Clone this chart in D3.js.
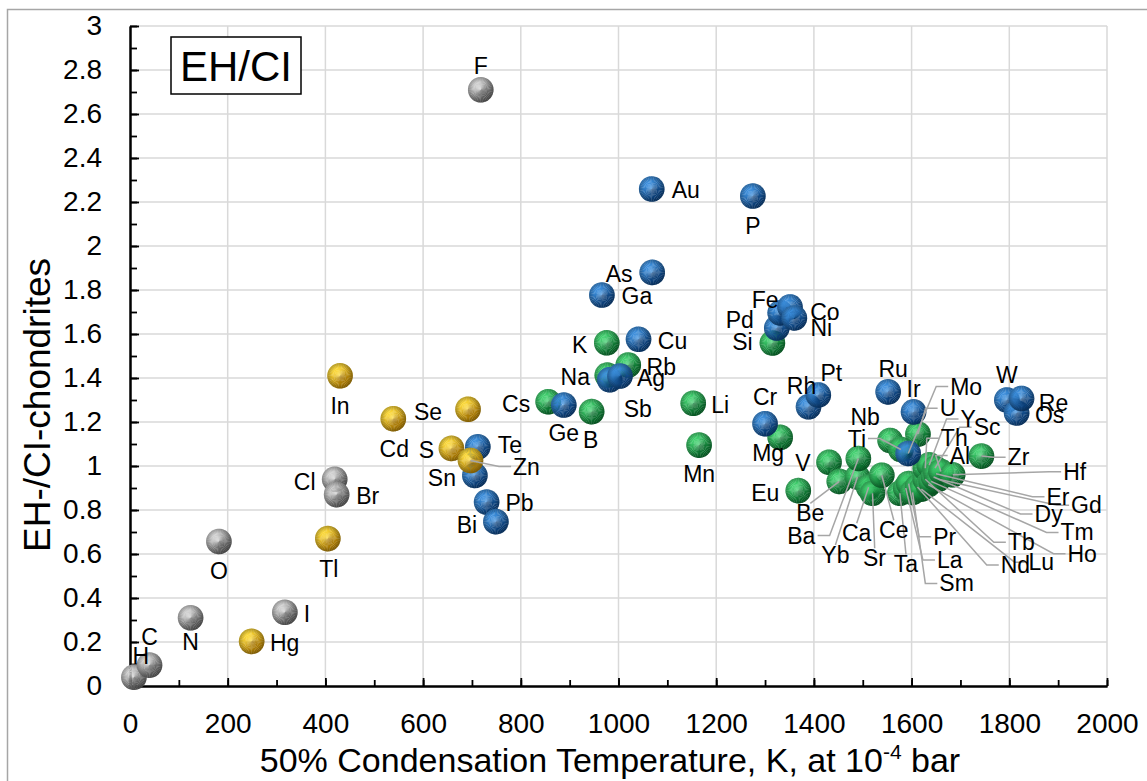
<!DOCTYPE html>
<html><head><meta charset="utf-8">
<script src="https://cdn.jsdelivr.net/npm/d3@7"></script>
<style>
html,body{margin:0;padding:0;background:#fff;}
svg{display:block;font-family:"Liberation Sans",Arial,sans-serif;}
</style></head><body>
<svg id="chart" width="1147" height="781"></svg>
<script>
// EH / CI chondrite abundance ratios against 50% condensation temperature (K, 10^-4 bar)

// Volatile elements (grey)
const volatileNames = ["H","C","N","O","I","Cl","Br","F"];
const volatileTc    = [8, 40, 124, 182, 317, 419, 423, 718];
const volatileRatio = [0.04, 0.095, 0.31, 0.657, 0.335, 0.94, 0.87, 2.71];

// Chalcophile elements (gold)
const chalcoNames = ["Hg","Tl","In","Cd","Se","S","Zn"];
const chalcoTc    = [249, 405, 430, 539, 692, 658, 697];
const chalcoRatio = [0.203, 0.67, 1.41, 1.215, 1.258, 1.08, 1.025];

// Siderophile elements (blue)
const sideroNames = ["Te","Sn","Pb","Bi","Ge","Ga","Sb","Ag","Cu","Au","As","P","Cr","Pd","Fe","Co","Ni","Rh","Pt","Ru","Ir","W","Os","Re","Mo"];
const sideroTc    = [712, 706, 730, 749, 888, 966, 982, 1003, 1041, 1068, 1069, 1275, 1300, 1324, 1331, 1351, 1360, 1389, 1409, 1552, 1604, 1795, 1815, 1825, 1593];
const sideroRatio = [1.087, 0.957, 0.836, 0.747, 1.277, 1.777, 1.392, 1.409, 1.576, 2.259, 1.88, 2.227, 1.192, 1.627, 1.696, 1.723, 1.673, 1.269, 1.323, 1.337, 1.246, 1.3, 1.241, 1.307, 1.057];

// Lithophile elements (green)
const lithoNames = ["Cs","B","K","Na","Rb","Li","Mn","Si","Mg","Eu","V","Be","Yb","Ba","Ca","Sr","Ce","Nb","Ti","U","Ta","La","Pr","Sm","Nd","Lu","Tb","Th","Ho","Y","Tm","Dy","Sc","Er","Gd","Al","Hf","Zr"];
const lithoTc    = [856, 945, 976, 977, 1020, 1153, 1165, 1315, 1331, 1368, 1431, 1452, 1489, 1491, 1512, 1520, 1539, 1556, 1578, 1613, 1576, 1588, 1594, 1602, 1612, 1620, 1628, 1628, 1634, 1636, 1640, 1645, 1648, 1650, 1655, 1660, 1684, 1743];
const lithoRatio = [1.292, 1.247, 1.56, 1.413, 1.459, 1.285, 1.095, 1.559, 1.13, 0.888, 1.017, 0.93, 0.95, 1.034, 0.904, 0.876, 0.958, 1.116, 1.075, 1.145, 0.876, 0.9, 0.92, 0.88, 0.905, 0.895, 0.94, 0.99, 0.915, 1.005, 0.93, 0.95, 0.99, 0.965, 0.94, 0.975, 0.96, 1.045];

// Axis ticks
const xTicks = [0,200,400,600,800,1000,1200,1400,1600,1800,2000];
const xMinorTicks = d3.range(0, 2001, 100);
const yTickTenths = d3.range(0, 31, 2);
const yMinorTenths = d3.range(0, 31, 1);
const yTicks = yTickTenths.map(t => t / 10);
const yMinorTicks = yMinorTenths.map(t => t / 10);

// ---- layout ----
const plot = {left: 130, right: 1107, top: 26, bottom: 686};

// label placement: [dx, dy] of the label centre from its marker, in px
const labelOffset = {
  H:[7,-21], C:[0,-28], N:[0,24], O:[0,29], I:[22,2], Cl:[-30,3], Br:[31,1], F:[0,-24],
  Hg:[33,2], Tl:[1,30], In:[0,30], Cd:[1,30], Se:[-40,3], S:[-25,2], Zn:[56,6],
  Te:[32,-2], Sn:[-33,2], Pb:[33,1], Bi:[-29,3], Au:[34,1], P:[0,30], As:[-33,2], Ga:[35,1],
  Cu:[34,2], K:[-27,2], Rb:[33,2], Na:[-32,2], Ag:[31,2], Sb:[28,29], Cs:[-32,2], Ge:[0,28],
  B:[-1,28], Li:[27,2], Mn:[0,29], Cr:[0,-27], Fe:[-15,-13], Co:[35,5], Ni:[27,10], Pd:[-37,-8],
  Si:[-30,-1], Rh:[-7,-21], Pt:[13,-22], Ru:[5,-23], Ir:[0,-23], Mg:[-12,16], Eu:[-33,2], V:[-26,1],
  W:[0,-25], Re:[32,4], Os:[33,2], Zr:[37,1], Nb:[-25,-24], Ti:[-44,-11],
  Be:[-29,32], Ba:[-57,77], Yb:[-22,78], Ca:[-12,46], Sr:[2,65], Ce:[12,55], Ta:[6,71],
  Pr:[36,53], La:[44,72], Sm:[44,91], Nd:[98,78], Tb:[96,63], Lu:[120,73], Ho:[154,69],
  Tm:[146,51], Dy:[115,37], Er:[122,23], Gd:[148,26], Hf:[122,-3], Al:[19,-16], Th:[29,-30],
  Y:[39,-46], Sc:[52,-41], U:[30,-26], Mo:[58,-67]
};
// leader line attachment: L = left side of label, R = right side, T = top of label
const leaderSide = {
  Zn:"L", Be:"T", Ba:"R", Yb:"T", Ca:"T", Sr:"T", Ce:"T", Ta:"T",
  Pr:"L", La:"L", Sm:"L", Nd:"L", Tb:"L", Lu:"L", Ho:"L", Tm:"L", Dy:"L", Er:"L", Gd:"L",
  Hf:"L", Al:"L", Th:"L", Y:"L", Sc:"L", U:"L", Mo:"L", Ti:"R", Zr:"L"
};

const svg = d3.select("#chart");
const x = d3.scaleLinear().domain([0, 2000]).range([plot.left, plot.right]);
const y = d3.scaleLinear().domain([0, 3]).range([plot.bottom, plot.top]);

// chart frame
svg.append("rect").attr("x", 7.5).attr("y", 9.5).attr("width", 1170).attr("height", 800)
  .attr("fill", "#fff").attr("stroke", "#a6a6a6").attr("stroke-width", 1.5);

// gridlines
const grid = svg.append("g").attr("stroke", "#d9d9d9").attr("stroke-width", 1.5);
grid.selectAll("line.v").data(xTicks.filter(d => d > 0)).join("line")
  .attr("x1", d => x(d)).attr("x2", d => x(d)).attr("y1", plot.top).attr("y2", plot.bottom);
grid.selectAll("line.h").data(yTicks.filter(d => d > 0)).join("line")
  .attr("x1", plot.left).attr("x2", plot.right).attr("y1", d => y(d)).attr("y2", d => y(d));

// axes (ticks point into the plot)
const fmtY = d => (Math.round(d * 10) % 10 === 0) ? String(Math.round(d)) : d.toFixed(1);
const yAxisMinor = svg.append("g").attr("transform", `translate(${plot.left},0)`)
  .call(d3.axisLeft(y).tickValues(yMinorTicks).tickSize(-7).tickSizeOuter(0).tickFormat(""));
const yAxis = svg.append("g").attr("transform", `translate(${plot.left},0)`)
  .call(d3.axisLeft(y).tickValues(yTicks).tickSize(-9).tickSizeOuter(0).tickPadding(28).tickFormat(fmtY));
const xAxisMinor = svg.append("g").attr("transform", `translate(0,${plot.bottom})`)
  .call(d3.axisBottom(x).tickValues(xMinorTicks).tickSize(-6).tickSizeOuter(0).tickFormat(""));
const xAxis = svg.append("g").attr("transform", `translate(0,${plot.bottom})`)
  .call(d3.axisBottom(x).tickValues(xTicks).tickSize(-8).tickSizeOuter(0).tickPadding(27).tickFormat(d3.format("d")));
[yAxisMinor, yAxis, xAxisMinor, xAxis].forEach(a => {
  a.selectAll("path.domain").attr("stroke", "#000").attr("stroke-width", 2);
  a.selectAll(".tick line").attr("stroke", "#000").attr("stroke-width", 1.8);
  a.selectAll("text").attr("font-family", '"Liberation Sans",Arial,sans-serif')
    .attr("font-size", 28).attr("fill", "#000");
});

// axis titles
const xt = svg.append("text").attr("x", 610).attr("y", 772).attr("text-anchor", "middle")
  .attr("font-size", 34).attr("fill", "#000");
xt.append("tspan").text("50% Condensation Temperature, K, at 10");
xt.append("tspan").attr("font-size", 21).attr("dy", -13).text("-4");
xt.append("tspan").attr("dy", 13).text(" bar");

svg.append("text").attr("transform", "translate(50,405) rotate(-90)")
  .attr("text-anchor", "middle").attr("font-size", 37).attr("fill", "#000")
  .text("EH-/CI-chondrites");

// series definitions (draw order: grey, green, blue, gold)
const series = [
  {names: volatileNames, tc: volatileTc, ratio: volatileRatio, light: "#d6d6d6", dark: "#555555"},
  {names: lithoNames,    tc: lithoTc,    ratio: lithoRatio,    light: "#45d673", dark: "#066628"},
  {names: sideroNames,   tc: sideroTc,   ratio: sideroRatio,   light: "#3f93e2", dark: "#07386f"},
  {names: chalcoNames,   tc: chalcoTc,   ratio: chalcoRatio,   light: "#ffdc3a", dark: "#a37300"}
];
const points = series.flatMap(s => s.names.map((n, i) => ({name: n, tc: s.tc[i], ratio: s.ratio[i], light: s.light, dark: s.dark})));

// rim shading
const defs = svg.append("defs");
const rim = defs.append("radialGradient").attr("id", "rim");
rim.append("stop").attr("offset", "0.62").attr("stop-color", "#000").attr("stop-opacity", 0);
rim.append("stop").attr("offset", "1").attr("stop-color", "#000").attr("stop-opacity", 0.28);

// cone-shaded markers built from thin wedges
const R = 12.8, nWedge = 40, lightAngle = -Math.PI / 5;
const wedgeArc = d3.arc().innerRadius(0).outerRadius(R);
const wedges = d3.range(nWedge).map(i => {
  const a0 = i / nWedge * 2 * Math.PI, a1 = (i + 1) / nWedge * 2 * Math.PI;
  const t = (1 + Math.cos((a0 + a1) / 2 - lightAngle)) / 2;
  return {a0, a1, t};
});
const markers = svg.append("g");
const mg = markers.selectAll("g").data(points).join("g")
  .attr("transform", d => `translate(${x(d.tc)},${y(d.ratio)})`);
mg.each(function(d) {
  const g = d3.select(this);
  const col = d3.interpolateRgb(d.dark, d.light);
  g.selectAll("path").data(wedges).join("path")
    .attr("d", w => wedgeArc({startAngle: w.a0, endAngle: w.a1 + 0.02}))
    .attr("fill", w => col(Math.pow(w.t, 1.1) * 0.9 + 0.05));
  g.append("circle").attr("r", R).attr("fill", "url(#rim)");
});

// data labels and leader lines
const leaderLayer = svg.append("g").attr("fill", "none").attr("stroke", "#a6a6a6").attr("stroke-width", 1.5);
const labels = svg.append("g").attr("font-size", 23).attr("fill", "#000").attr("text-anchor", "middle");
points.forEach(d => {
  const off = labelOffset[d.name] || [0, -24];
  const px = x(d.tc), py = y(d.ratio);
  const t = labels.append("text").attr("x", px + off[0]).attr("y", py + off[1]).attr("dy", "0.35em").text(d.name);
  const side = leaderSide[d.name];
  if (!side) return;
  const b = t.node().getBBox();
  let pts;
  if (side === "T") {
    pts = [[px, py], [b.x + b.width / 2, b.y + 3]];
  } else if (side === "L") {
    const ex = b.x - 2, ey = b.y + b.height / 2;
    pts = [[px, py], [ex - 12, ey], [ex, ey]];
  } else {
    const ex = b.x + b.width + 2, ey = b.y + b.height / 2;
    pts = [[px, py], [ex + 12, ey], [ex, ey]];
  }
  leaderLayer.append("path").attr("d", d3.line()(pts));
});

// panel tag
svg.append("rect").attr("x", 171).attr("y", 37).attr("width", 130).attr("height", 57)
  .attr("fill", "#fff").attr("stroke", "#000").attr("stroke-width", 1.5);
svg.append("text").attr("x", 236).attr("y", 81).attr("text-anchor", "middle")
  .attr("font-size", 42).attr("fill", "#000").text("EH/CI");
</script>
</body></html>
